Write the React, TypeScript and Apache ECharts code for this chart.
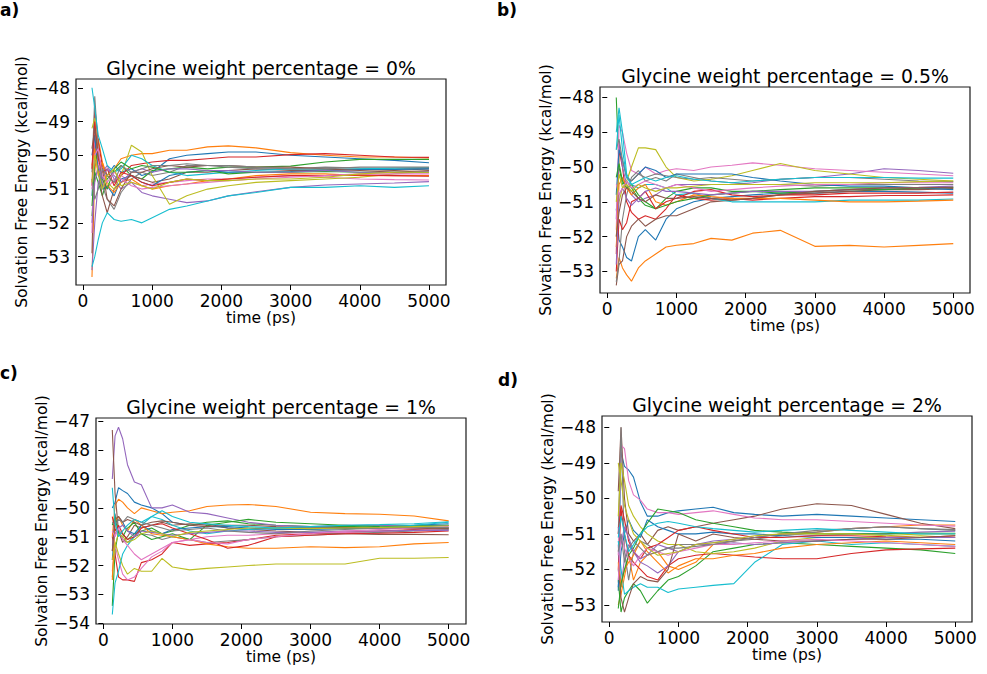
import React, { useEffect, useRef } from "react";
import * as echarts from "echarts";

// time points (ps)
const TIMES = [130, 170, 220, 280, 350, 450, 550, 700, 850, 1000, 1250, 1500, 1800, 2100, 2500, 3000, 3500, 4000, 4500, 5000];
const X_TICKS = [0, 1000, 2000, 3000, 4000, 5000];
const Y_TICKS_A = [-53, -52, -51, -50, -49, -48];
const Y_TICKS_B = [-53, -52, -51, -50, -49, -48];
const Y_TICKS_C = [-54, -53, -52, -51, -50, -49, -48, -47];
const Y_TICKS_D = [-53, -52, -51, -50, -49, -48];

const TITLES = [
  "Glycine weight percentage = 0%",
  "Glycine weight percentage = 0.5%",
  "Glycine weight percentage = 1%",
  "Glycine weight percentage = 2%",
];
const PANEL_LABELS = ["a)", "b)", "c)", "d)"];
const X_NAME = "time (ps)";
const Y_NAME = "Solvation Free Energy (kcal/mol)";

// panel a: 0 %
const RUNS_A: number[][] = [
  [-51.2, -49.8, -50.4, -50.9, -50.6, -50.3, -50.5, -50.4, -50.6, -50.5, -50.1, -50.0, -49.95, -49.9, -49.9, -50.0, -50.05, -50.1, -50.15, -50.22],
  [-53.6, -50.5, -49.5, -50.2, -50.6, -50.4, -50.1, -50.0, -49.95, -49.95, -49.85, -49.85, -49.75, -49.72, -49.78, -49.92, -50.0, -50.05, -50.05, -50.08],
  [-51.8, -50.5, -50.8, -51.2, -50.7, -50.5, -50.3, -50.6, -50.7, -50.45, -50.4, -50.35, -50.4, -50.35, -50.35, -50.32, -50.2, -50.12, -50.12, -50.12],
  [-50.9, -48.6, -49.6, -50.3, -50.6, -50.8, -50.6, -50.3, -50.25, -50.2, -50.15, -50.15, -50.1, -50.05, -50.05, -49.98, -49.95, -50.0, -50.05, -50.06],
  [-53.4, -52.0, -50.8, -50.5, -50.3, -50.7, -51.0, -50.8, -51.1, -51.2, -51.3, -51.4, -51.35, -51.2, -51.08, -50.95, -50.88, -50.85, -50.82, -50.78],
  [-52.9, -49.5, -50.5, -51.2, -51.7, -51.0, -50.8, -50.6, -50.7, -50.8, -50.7, -50.5, -50.5, -50.45, -50.4, -50.45, -50.45, -50.42, -50.45, -50.4],
  [-52.3, -49.0, -50.2, -50.8, -51.0, -50.7, -50.6, -50.8, -50.9, -50.85, -50.8, -50.75, -50.7, -50.7, -50.65, -50.6, -50.65, -50.7, -50.72, -50.73],
  [-50.5, -48.25, -49.8, -50.9, -51.3, -51.6, -51.1, -50.7, -50.5, -50.6, -50.5, -50.3, -50.3, -50.35, -50.4, -50.4, -50.35, -50.38, -50.4, -50.38],
  [-49.2, -48.9, -50.1, -50.4, -50.8, -51.0, -50.6, -49.7, -49.9, -50.6, -51.45, -51.2, -51.0, -50.9, -50.8, -50.75, -50.7, -50.65, -50.55, -50.48],
  [-48.0, -48.6, -49.4, -49.8, -50.3, -50.5, -50.4, -50.0, -50.1, -50.3, -50.5, -50.6, -50.55, -50.5, -50.45, -50.4, -50.42, -50.4, -50.38, -50.36],
  [-50.0, -49.4, -50.5, -51.0, -50.9, -51.2, -50.7, -50.6, -50.8, -50.9, -50.6, -50.5, -50.45, -50.5, -50.5, -50.48, -50.45, -50.42, -50.42, -50.4],
  [-50.3, -49.8, -50.6, -50.2, -50.9, -51.1, -50.8, -50.7, -50.9, -51.0, -50.9, -50.85, -50.75, -50.7, -50.6, -50.55, -50.55, -50.6, -50.6, -50.6],
  [-51.5, -50.2, -49.9, -50.7, -51.0, -50.4, -50.2, -50.4, -50.3, -50.35, -50.5, -50.5, -50.45, -50.55, -50.5, -50.5, -50.48, -50.5, -50.5, -50.5],
  [-50.4, -49.0, -50.1, -50.5, -50.4, -50.9, -50.5, -50.6, -50.8, -50.9, -50.8, -50.7, -50.75, -50.7, -50.65, -50.6, -50.6, -50.58, -50.6, -50.62],
  [-52.0, -50.8, -50.3, -50.7, -50.4, -50.6, -50.8, -50.5, -50.4, -50.5, -50.4, -50.4, -50.45, -50.45, -50.5, -50.5, -50.45, -50.5, -50.5, -50.48],
  [-49.8, -49.2, -50.0, -50.4, -51.3, -51.5, -51.0, -50.5, -50.5, -50.4, -50.3, -50.35, -50.3, -50.3, -50.35, -50.35, -50.4, -50.45, -50.5, -50.45],
  [-51.0, -50.0, -49.8, -50.6, -50.8, -50.5, -50.7, -50.9, -51.0, -50.95, -50.9, -50.85, -50.8, -50.75, -50.7, -50.65, -50.6, -50.55, -50.55, -50.55],
  [-50.7, -51.3, -51.0, -50.4, -50.6, -50.8, -50.3, -50.5, -50.4, -50.3, -50.3, -50.25, -50.3, -50.3, -50.35, -50.4, -50.4, -50.35, -50.35, -50.35],
  [-50.8, -50.0, -50.5, -51.0, -50.6, -50.4, -50.9, -50.8, -50.9, -51.0, -50.8, -50.7, -50.75, -50.75, -50.7, -50.7, -50.65, -50.55, -50.5, -50.5],
  [-53.3, -53.0, -52.5, -52.0, -51.7, -51.9, -51.95, -51.9, -52.0, -51.85, -51.6, -51.5, -51.35, -51.2, -51.1, -50.95, -50.95, -50.9, -50.95, -50.9],
];

// panel b: 0.5 %
const RUNS_B: number[][] = [
  [-51.2, -52.1, -52.3, -52.6, -52.7, -52.0, -51.8, -52.1, -51.5, -51.2, -51.0, -50.9, -50.85, -50.8, -50.75, -50.75, -50.7, -50.7, -50.72, -50.75],
  [-53.2, -52.6, -52.9, -53.1, -53.28, -52.9, -52.7, -52.5, -52.3, -52.25, -52.2, -52.05, -52.1, -51.9, -51.82, -52.28, -52.25, -52.3, -52.25, -52.2],
  [-48.0, -50.0, -50.5, -50.4, -50.6, -50.9, -51.1, -51.2, -50.9, -50.7, -50.6, -50.6, -50.7, -50.7, -50.65, -50.6, -50.6, -50.6, -50.6, -50.6],
  [-52.5, -49.5, -50.0, -51.0, -51.3, -51.5, -51.4, -51.5, -51.2, -50.8, -50.9, -50.95, -50.9, -50.95, -50.9, -50.85, -50.85, -50.82, -50.82, -50.8],
  [-51.5, -49.3, -50.0, -50.5, -50.8, -51.0, -50.9, -50.8, -50.6, -50.5, -50.5, -50.5, -50.5, -50.45, -50.35, -50.3, -50.2, -50.05, -50.1, -50.18],
  [-53.4, -52.8, -52.7, -52.0, -51.7, -51.5, -51.7, -51.5, -51.4, -51.4, -51.2, -51.0, -50.95, -50.9, -50.8, -50.75, -50.7, -50.65, -50.65, -50.62],
  [-51.8, -48.8, -49.0, -49.6, -50.1, -50.2, -50.0, -50.2, -50.1, -50.05, -50.1, -50.0, -49.95, -49.88, -49.95, -50.05, -50.1, -50.15, -50.2, -50.25],
  [-53.3, -52.7, -51.5, -50.8, -50.3, -50.1, -50.4, -50.3, -50.4, -50.2, -50.3, -50.4, -50.45, -50.5, -50.5, -50.55, -50.5, -50.5, -50.5, -50.5],
  [-52.0, -51.0, -50.6, -50.4, -50.0, -49.45, -49.45, -49.5, -50.0, -50.3, -50.4, -50.35, -50.25, -50.1, -49.9, -50.1, -50.2, -50.3, -50.35, -50.4],
  [-49.0, -48.3, -49.0, -50.2, -50.5, -50.6, -50.5, -50.5, -50.6, -50.8, -50.75, -50.9, -51.0, -51.0, -51.0, -51.0, -50.95, -50.95, -50.95, -50.92],
  [-50.8, -49.5, -49.8, -50.3, -50.4, -50.2, -50.0, -50.1, -50.3, -50.2, -50.2, -50.2, -50.2, -50.3, -50.4, -50.5, -50.55, -50.55, -50.6, -50.65],
  [-52.3, -50.5, -50.3, -50.6, -50.8, -50.6, -50.5, -51.0, -51.1, -51.0, -50.8, -50.85, -50.9, -50.9, -50.9, -50.95, -51.0, -51.0, -50.98, -50.95],
  [-50.3, -49.9, -50.4, -50.6, -50.5, -50.8, -51.0, -51.2, -51.1, -51.0, -50.9, -50.8, -50.75, -50.7, -50.75, -50.7, -50.65, -50.65, -50.6, -50.58],
  [-53.0, -51.5, -51.8, -51.6, -51.0, -50.9, -50.7, -51.2, -51.0, -50.9, -50.7, -50.65, -50.8, -50.85, -50.8, -50.8, -50.75, -50.75, -50.75, -50.72],
  [-52.8, -50.8, -50.6, -50.9, -51.1, -50.9, -50.7, -50.6, -50.7, -50.7, -50.75, -50.8, -50.75, -50.7, -50.7, -50.7, -50.65, -50.6, -50.58, -50.55],
  [-52.0, -51.3, -50.8, -50.6, -50.7, -50.9, -51.0, -50.8, -50.9, -50.9, -50.85, -50.9, -50.95, -50.9, -50.8, -50.7, -50.65, -50.6, -50.6, -50.58],
  [-50.5, -50.8, -50.6, -50.4, -50.6, -50.5, -50.4, -50.5, -50.6, -50.5, -50.6, -50.7, -50.65, -50.6, -50.55, -50.5, -50.5, -50.45, -50.45, -50.45],
  [-49.5, -49.2, -49.8, -50.3, -50.4, -50.2, -50.3, -50.2, -50.25, -50.3, -50.35, -50.3, -50.35, -50.4, -50.35, -50.3, -50.3, -50.35, -50.4, -50.42],
  [-51.0, -50.2, -50.6, -50.5, -50.7, -50.5, -50.6, -50.7, -50.6, -50.6, -50.55, -50.5, -50.5, -50.5, -50.5, -50.45, -50.45, -50.45, -50.42, -50.4],
  [-49.5, -48.5, -49.5, -50.3, -50.5, -50.4, -50.3, -50.4, -50.3, -50.25, -50.35, -50.4, -50.45, -50.4, -50.35, -50.3, -50.3, -50.3, -50.32, -50.32],
];

// panel c: 1 %
const RUNS_C: number[][] = [
  [-50.0, -49.8, -49.3, -49.4, -49.5, -49.8, -49.9, -50.0, -50.2, -50.5, -50.6, -50.55, -50.7, -50.75, -50.7, -50.7, -50.7, -50.68, -50.6, -50.55],
  [-51.0, -49.9, -49.7, -49.8, -50.0, -50.2, -50.0, -50.1, -50.2, -50.15, -50.1, -49.95, -49.9, -49.88, -49.95, -50.15, -50.2, -50.22, -50.28, -50.45],
  [-53.4, -51.5, -50.8, -50.9, -51.1, -50.9, -50.8, -50.7, -50.9, -50.8, -50.6, -50.5, -50.45, -50.55, -50.6, -50.65, -50.65, -50.62, -50.62, -50.6],
  [-51.0, -51.6, -52.4, -52.5, -52.5, -52.55, -51.9, -51.8, -51.6, -51.2, -51.3, -51.25, -51.2, -51.1, -50.95, -50.9, -50.85, -50.8, -50.75, -50.72],
  [-49.0, -47.5, -47.2, -47.6, -48.5, -49.1, -49.2, -50.0, -50.0, -49.9, -50.15, -50.2, -50.35, -50.5, -50.6, -50.65, -50.6, -50.6, -50.65, -50.7],
  [-47.3, -49.5, -50.8, -51.2, -51.0, -50.6, -50.7, -50.6, -50.5, -50.6, -50.55, -50.6, -50.7, -50.75, -50.8, -50.85, -50.9, -50.92, -50.92, -50.93],
  [-52.2, -51.3, -51.8, -52.3, -52.5, -52.4, -52.1, -51.7, -51.5, -51.2, -51.1, -51.0, -50.95, -50.95, -50.9, -50.85, -50.85, -50.82, -50.78, -50.75],
  [-51.5, -50.2, -50.8, -51.1, -51.2, -51.0, -50.9, -50.95, -51.1, -51.0, -51.1, -51.2, -51.15, -51.1, -51.0, -50.95, -50.9, -50.85, -50.8, -50.75],
  [-52.4, -51.2, -51.6, -52.0, -52.3, -52.1, -52.2, -52.2, -51.75, -52.05, -52.15, -52.1, -52.05, -52.0, -51.95, -51.95, -51.95, -51.75, -51.75, -51.72],
  [-53.7, -52.6, -52.2, -51.6, -51.3, -51.0, -50.6, -50.3, -50.4, -50.6, -50.8, -50.9, -50.8, -50.75, -50.7, -50.72, -50.7, -50.68, -50.6, -50.5],
  [-51.8, -50.6, -50.3, -50.5, -50.8, -50.9, -50.6, -50.8, -50.9, -50.75, -50.7, -50.65, -50.65, -50.7, -50.75, -50.75, -50.72, -50.7, -50.65, -50.6],
  [-52.5, -50.5, -50.3, -50.6, -50.8, -50.4, -50.6, -50.9, -50.95, -51.0, -51.1, -51.25, -51.35, -51.4, -51.4, -51.35, -51.38, -51.35, -51.25, -51.2],
  [-50.6, -50.3, -50.9, -51.0, -50.7, -50.5, -50.9, -51.1, -51.0, -50.9, -51.1, -50.6, -50.5, -50.4, -50.5, -50.55, -50.6, -50.65, -50.68, -50.7],
  [-50.3, -50.8, -50.6, -50.9, -51.1, -51.0, -50.7, -50.6, -50.55, -50.7, -50.9, -51.1, -51.4, -51.3, -51.0, -50.95, -50.9, -50.88, -50.85, -50.8],
  [-51.3, -50.9, -50.7, -50.6, -50.8, -51.0, -50.8, -50.85, -50.9, -50.95, -50.9, -50.85, -50.8, -50.8, -50.85, -50.85, -50.8, -50.8, -50.78, -50.78],
  [-51.5, -50.4, -50.3, -50.5, -50.4, -50.5, -50.6, -50.5, -50.45, -50.5, -50.6, -50.65, -50.6, -50.6, -50.65, -50.7, -50.68, -50.7, -50.72, -50.7],
  [-50.8, -51.0, -50.7, -51.1, -51.3, -51.6, -51.8, -51.6, -51.4, -51.2, -51.1, -51.2, -51.25, -51.1, -51.0, -50.9, -50.8, -50.75, -50.7, -50.65],
  [-50.5, -50.6, -50.4, -50.5, -50.3, -50.4, -50.5, -50.6, -50.7, -50.8, -50.75, -50.7, -50.8, -50.85, -50.9, -50.8, -50.75, -50.7, -50.68, -50.68],
  [-51.8, -51.3, -50.9, -51.0, -51.2, -51.1, -50.9, -50.8, -50.9, -51.0, -50.85, -50.8, -50.75, -50.7, -50.7, -50.72, -50.7, -50.68, -50.65, -50.62],
  [-49.3, -50.5, -51.0, -50.8, -50.6, -50.4, -50.5, -50.3, -50.1, -50.3, -50.5, -50.55, -50.6, -50.65, -50.7, -50.65, -50.6, -50.58, -50.55, -50.48],
];

// panel d: 2 %
const RUNS_D: number[][] = [
  [-52.6, -48.7, -49.1, -49.2, -49.4, -50.1, -50.5, -50.5, -50.4, -50.35, -50.3, -50.25, -50.4, -50.45, -50.5, -50.45, -50.5, -50.55, -50.6, -50.65],
  [-53.0, -52.7, -52.2, -51.6, -52.3, -51.8, -51.6, -51.5, -51.9, -52.0, -51.8, -51.3, -51.2, -51.1, -51.0, -50.95, -50.85, -50.8, -50.75, -50.75],
  [-52.3, -53.2, -52.8, -52.6, -52.4, -52.6, -52.95, -52.6, -52.3, -52.2, -51.9, -51.5, -51.4, -51.3, -51.25, -51.3, -51.35, -51.4, -51.45, -51.55],
  [-52.0, -50.3, -51.0, -51.6, -51.8, -52.0, -52.2, -52.3, -51.9, -51.7, -51.6, -51.55, -51.6, -51.65, -51.7, -51.7, -51.55, -51.45, -51.42, -51.4],
  [-51.3, -52.5, -51.7, -51.3, -51.5, -51.8, -51.9, -52.1, -51.9, -51.5, -51.3, -51.2, -51.15, -51.1, -51.0, -51.05, -51.0, -51.0, -50.95, -50.92],
  [-49.8, -48.0, -50.0, -51.0, -51.2, -51.0, -51.3, -50.9, -50.8, -50.9, -50.8, -50.7, -50.6, -50.5, -50.3, -50.15, -50.2, -50.45, -50.7, -50.85],
  [-51.6, -48.5, -48.6, -49.5, -49.9, -50.05, -50.3, -50.4, -50.4, -50.45, -50.4, -50.35, -50.45, -50.55, -50.6, -50.6, -50.65, -50.7, -50.75, -50.78],
  [-51.0, -48.0, -51.5, -52.3, -51.5, -51.2, -51.3, -51.5, -51.4, -51.3, -51.3, -51.25, -51.2, -51.15, -51.05, -50.95, -50.85, -50.8, -50.85, -50.9],
  [-50.5, -49.0, -49.5, -50.2, -50.5, -50.8, -51.0, -51.2, -51.3, -51.3, -51.5, -51.55, -51.5, -51.4, -51.2, -51.1, -51.1, -51.1, -51.05, -51.1],
  [-51.2, -52.0, -52.7, -52.6, -52.5, -52.4, -52.5, -52.5, -52.65, -52.55, -52.5, -52.45, -52.4, -51.8, -51.3, -51.2, -51.3, -51.25, -51.3, -51.35],
  [-52.5, -51.5, -51.0, -50.6, -50.9, -51.1, -50.6, -50.8, -50.9, -51.0, -51.0, -50.95, -51.0, -51.0, -51.05, -51.1, -51.1, -51.15, -51.15, -51.2],
  [-51.8, -52.5, -52.0, -51.8, -51.6, -51.2, -51.5, -51.8, -52.1, -51.9, -51.7, -51.7, -51.6, -51.55, -51.4, -51.3, -51.25, -51.2, -51.25, -51.3],
  [-53.1, -52.4, -52.0, -51.6, -51.4, -51.0, -50.7, -50.3, -50.35, -50.4, -50.6, -50.7, -50.8, -50.9, -50.95, -51.0, -51.0, -51.0, -50.98, -50.98],
  [-51.0, -50.2, -50.6, -51.2, -51.5, -51.7, -51.4, -51.3, -51.1, -50.9, -50.8, -50.9, -51.0, -51.1, -51.1, -51.05, -51.05, -51.08, -51.1, -51.05],
  [-50.8, -51.3, -50.8, -51.1, -51.5, -51.7, -51.6, -51.3, -51.4, -51.5, -51.3, -51.3, -51.25, -51.3, -51.25, -51.2, -51.15, -51.1, -51.1, -51.1],
  [-52.0, -52.8, -53.2, -52.8, -52.4, -52.2, -52.3, -52.35, -52.0, -51.0, -51.2, -51.0, -51.1, -51.15, -51.2, -51.2, -51.15, -51.15, -51.1, -51.05],
  [-52.3, -51.0, -51.4, -51.7, -51.9, -51.6, -51.4, -51.5, -51.6, -51.5, -51.4, -51.3, -51.3, -51.25, -51.2, -51.15, -51.2, -51.25, -51.3, -51.35],
  [-51.5, -51.0, -51.8, -51.4, -51.2, -51.4, -51.6, -51.5, -51.4, -51.4, -51.35, -51.3, -51.2, -51.1, -51.0, -50.9, -50.85, -50.8, -50.85, -50.88],
  [-49.0, -49.5, -50.2, -50.6, -51.0, -51.2, -51.4, -51.6, -51.55, -51.5, -51.3, -51.25, -51.15, -51.05, -51.0, -51.0, -51.0, -51.05, -51.0, -51.0],
  [-51.1, -50.5, -51.0, -51.5, -51.3, -51.0, -50.8, -50.7, -50.65, -50.7, -50.8, -50.85, -50.9, -50.95, -50.9, -50.85, -50.9, -50.95, -51.0, -51.0],
];

const TAB10 = ["#1f77b4", "#ff7f0e", "#2ca02c", "#d62728", "#9467bd", "#8c564b", "#e377c2", "#7f7f7f", "#bcbd22", "#17becf"];
const FONT = "DejaVu Sans";

const LAYOUT = [
  { runs: RUNS_A, yTicks: Y_TICKS_A, grid: { left: 76, top: 79, width: 370, height: 206 }, xr: [-101, 5246], yr: [-53.84, -47.74], tag: [0, 10] },
  { runs: RUNS_B, yTicks: Y_TICKS_B, grid: { left: 600, top: 87, width: 370, height: 206 }, xr: [-105, 5242], yr: [-53.62, -47.7], tag: [497, 10] },
  { runs: RUNS_C, yTicks: Y_TICKS_C, grid: { left: 96, top: 418, width: 370, height: 206 }, xr: [-106, 5251], yr: [-54.03, -46.88], tag: [0, 373] },
  { runs: RUNS_D, yTicks: Y_TICKS_D, grid: { left: 602, top: 416, width: 370, height: 206 }, xr: [-105, 5242], yr: [-53.48, -47.68], tag: [498, 380] },
];

const fmt = (v: number) => (v < 0 ? "\u2212" + Math.abs(v) : String(v));

export default function App() {
  const ref = useRef<HTMLDivElement>(null);
  useEffect(() => {
    if (!ref.current) return;
    const chart = echarts.init(ref.current, undefined, { renderer: "svg" });
    const grids: any[] = [];
    const xAxes: any[] = [];
    const yAxes: any[] = [];
    const series: any[] = [];
    const graphics: any[] = [];
    LAYOUT.forEach((p, pi) => {
      grids.push({ ...p.grid, show: true, borderColor: "#1a1a1a", borderWidth: 1.2, backgroundColor: "#fff", containLabel: false });
      xAxes.push({
        type: "value", gridIndex: pi, min: p.xr[0], max: p.xr[1],
        name: X_NAME, nameLocation: "middle", nameGap: 24,
        nameTextStyle: { fontFamily: FONT, fontSize: 15.5, color: "#000" },
        axisLine: { show: false },
        axisTick: { show: true, length: 5, customValues: X_TICKS, lineStyle: { color: "#000", width: 1 } },
        axisLabel: { customValues: X_TICKS, margin: 7, fontFamily: FONT, fontSize: 17, color: "#000", formatter: fmt },
        splitLine: { show: false },
      });
      yAxes.push({
        type: "value", gridIndex: pi, min: p.yr[0], max: p.yr[1],
        name: Y_NAME, nameLocation: "middle", nameGap: 46, nameRotate: 90,
        nameTextStyle: { fontFamily: FONT, fontSize: 15.5, color: "#000" },
        axisLine: { show: false },
        axisTick: { show: true, length: 5, customValues: p.yTicks, lineStyle: { color: "#000", width: 1 } },
        axisLabel: { customValues: p.yTicks, margin: 6, fontFamily: FONT, fontSize: 17, color: "#000", formatter: fmt },
        splitLine: { show: false },
      });
      p.runs.forEach((run, ri) => {
        series.push({
          type: "line", xAxisIndex: pi, yAxisIndex: pi, showSymbol: false, symbol: "none",
          data: TIMES.map((t, i) => [t, run[i]]),
          lineStyle: { color: TAB10[ri % 10], width: 1.1 },
          itemStyle: { color: TAB10[ri % 10] },
          z: 2,
        });
      });
      graphics.push({
        type: "text", x: p.grid.left + p.grid.width / 2, y: p.grid.top - 11,
        style: { text: TITLES[pi], fontFamily: FONT, fontSize: 18.8, fill: "#000", textAlign: "center", textVerticalAlign: "middle" },
      });
      graphics.push({
        type: "text", x: p.tag[0], y: p.tag[1],
        style: { text: PANEL_LABELS[pi], fontFamily: FONT, fontSize: 17, fontWeight: "bold", fill: "#000", textAlign: "left", textVerticalAlign: "middle" },
      });
    });
    chart.setOption({
      animation: false,
      backgroundColor: "#fff",
      grid: grids,
      xAxis: xAxes,
      yAxis: yAxes,
      series,
      graphic: graphics,
    });
    return () => chart.dispose();
  }, []);
  return <div ref={ref} style={{ position: "absolute", left: 0, top: 0, width: 987, height: 674 }} />;
}
